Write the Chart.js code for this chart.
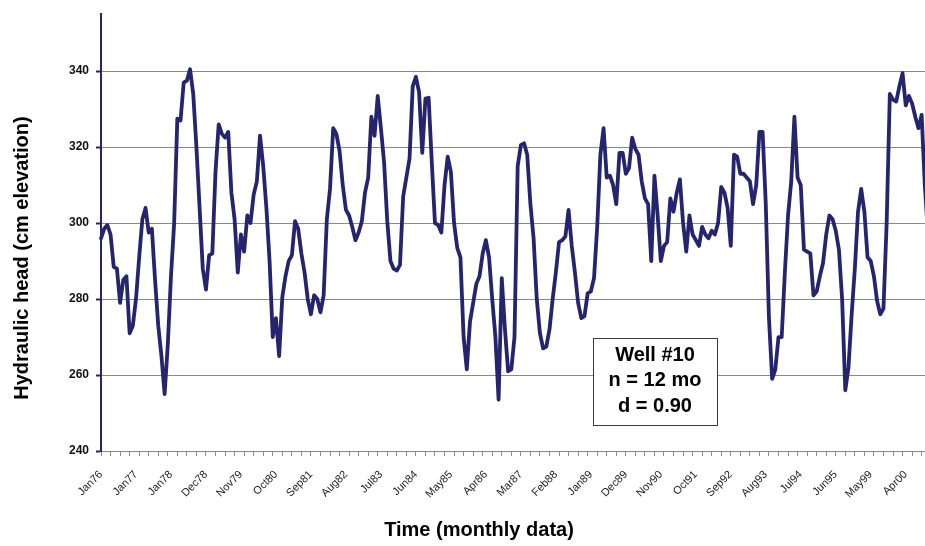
<!DOCTYPE html>
<html>
<head>
<meta charset="utf-8">
<script src="https://cdn.jsdelivr.net/npm/chart.js@4/dist/chart.umd.min.js"></script>
<style>
  html, body { margin: 0; padding: 0; background: #ffffff; overflow: hidden; }
  #wrap { width: 925px; height: 546px; overflow: hidden; position: relative; }
  canvas { display: block; position: absolute; left: 0; top: 0; }
</style>
</head>
<body>
<div id="wrap"><canvas id="chart" width="935" height="546"></canvas></div>
<script>
// Axis labels shown along the time axis (one every 11 monthly readings)
const tickLabels = ['Jan76','Jan77','Jan78','Dec78','Nov79','Oct80','Sep81','Aug82','Jul83','Jun84',
  'May85','Apr86','Mar87','Feb88','Jan89','Dec89','Nov90','Oct91','Sep92','Aug93','Jul94','Jun95','May99','Apr00'];
const labelEvery = 11;

// Monthly hydraulic head readings, cm elevation
const heads = [
  296, 298.5, 299.5, 297, 288.5, 288, 279, 285, 286, 271,
  273, 280, 291, 301, 304, 297.5, 298.5, 285, 273, 265,
  255, 268, 286, 300, 327.5, 327, 337, 337.5, 340.5, 334,
  320, 304, 288, 282.5, 291.5, 292, 313.5, 326, 323.5, 322.5,
  324, 308, 301, 287, 297, 292.5, 302, 300, 307.5, 311,
  323, 315, 304, 290, 270, 275, 265, 280.5, 286, 290,
  291.5, 300.5, 298.5, 292, 287, 280, 276, 281, 280, 276.5,
  281, 301, 309, 325, 323.5, 319, 310, 303.5, 302, 299,
  295.5, 297.5, 300.5, 308, 312, 328, 323, 333.5, 325, 316,
  300.5, 290, 288, 287.5, 289, 307, 312, 317, 336, 338.5,
  334.5, 318.5, 332.8, 333, 316, 300, 299.5, 297.5, 310, 317.5,
  313.5, 300, 293.5, 291, 270, 261.5, 274, 279, 284, 286,
  292, 295.5, 291, 280, 270, 253.5, 285.5, 272, 261, 261.5,
  270, 315, 320.5, 321, 318, 305, 296, 280, 271, 267,
  267.5, 272, 280, 287, 295, 295.5, 296.5, 303.5, 294, 287,
  279, 275, 275.5, 281.5, 282, 285.5, 299, 318, 325, 312,
  312.5, 310, 305, 318.5, 318.5, 313, 314.5, 322.5, 319.5, 318,
  311, 306.5, 305, 290, 312.5, 302, 290, 294, 295, 306.5,
  303, 308, 311.5, 300, 292.5, 302, 297, 295.5, 294, 299,
  297, 296, 298, 297, 300, 309.5, 308, 304, 294, 318,
  317.5, 313, 313, 312, 311, 305, 310, 324, 324, 305,
  275, 259, 261.5, 270, 270, 287, 302, 311, 328, 312,
  310, 293, 292.5, 292, 281, 282, 286, 289.5, 297, 302,
  301, 298, 293, 280, 256, 262, 276, 288, 303, 309,
  303, 291, 290, 286, 279.5, 276, 277.5, 300, 334, 332.5,
  332, 336, 339.5, 331, 333.5, 331.5, 328, 325, 328.5, 310,
  297
];

// One category per reading; only every 11th carries a visible label
const categories = heads.map((_, i) => (i % labelEvery === 0 ? (tickLabels[i / labelEvery] || '') : ''));

const yTitle = 'Hydraulic head (cm elevation)';
const xTitle = 'Time (monthly data)';
const noteLines = ['Well #10', 'n = 12 mo', 'd = 0.90'];

const NAVY = '#25256f';
const GRID = '#8a8a8a';
const FONT = "'Liberation Sans', Arial, sans-serif";

// Axis captions and the well annotation box
const captions = {
  id: 'captions',
  afterDraw(chart) {
    const ctx = chart.ctx;
    ctx.save();
    ctx.fillStyle = '#000000';
    ctx.font = 'bold 20px ' + FONT;
    ctx.textAlign = 'center';
    ctx.textBaseline = 'middle';

    // y-axis caption
    ctx.save();
    ctx.translate(22, 258);
    ctx.rotate(-Math.PI / 2);
    ctx.fillText(yTitle, 0, 0);
    ctx.restore();

    // x-axis caption
    ctx.fillText(xTitle, 479, 530);

    // annotation box
    const bx = 593, by = 338, bw = 124, bh = 87;
    ctx.fillStyle = '#ffffff';
    ctx.fillRect(bx, by, bw, bh);
    ctx.strokeStyle = '#3a3a3a';
    ctx.lineWidth = 1;
    ctx.strokeRect(bx + 0.5, by + 0.5, bw, bh);
    ctx.fillStyle = '#000000';
    noteLines.forEach((t, k) => ctx.fillText(t, bx + bw / 2, by + 17 + k * 25.5));
    ctx.restore();
  }
};

new Chart(document.getElementById('chart'), {
  type: 'line',
  data: {
    labels: categories,
    datasets: [{
      data: heads,
      borderColor: NAVY,
      borderWidth: 3.8,
      pointRadius: 0,
      tension: 0,
      borderJoinStyle: 'round',
      borderCapStyle: 'round',
      fill: false
    }]
  },
  options: {
    responsive: false,
    animation: false,
    devicePixelRatio: 1,
    layout: { padding: { top: 12, left: 0, right: 7, bottom: 0 } },
    plugins: { legend: { display: false }, tooltip: { enabled: false }, title: { display: false } },
    scales: {
      x: {
        type: 'category',
        offset: false,
        afterFit(scale) {
          scale.height = 95;
          scale.paddingLeft = 0;
          scale.paddingRight = 0;
        },
        border: { display: true, color: GRID, width: 1 },
        grid: {
          drawOnChartArea: false,
          drawTicks: true,
          tickLength: 5,
          tickColor: (c) => (c.index % 3 === 0 ? GRID : 'rgba(0,0,0,0)'),
          tickWidth: 1
        },
        ticks: {
          autoSkip: false,
          maxRotation: 45,
          minRotation: 45,
          padding: 12,
          color: '#222222',
          font: { family: FONT, size: 11 },
          callback: (v, i) => categories[i]
        }
      },
      y: {
        min: 240,
        max: 355,
        afterFit(scale) { scale.width = 101; },
        afterBuildTicks(scale) { scale.ticks = scale.ticks.filter(t => t.value <= 340); },
        border: { display: true, color: NAVY, width: 2 },
        grid: {
          color: GRID,
          lineWidth: 1,
          drawTicks: true,
          tickLength: 5,
          tickColor: NAVY,
          tickWidth: 2
        },
        ticks: {
          stepSize: 20,
          padding: 7,
          color: '#111111',
          font: { family: FONT, size: 12, weight: 'bold' }
        }
      }
    }
  },
  plugins: [captions]
});
</script>
</body>
</html>
